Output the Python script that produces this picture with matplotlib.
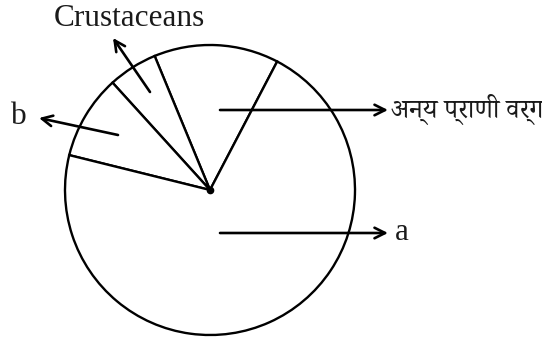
import matplotlib
matplotlib.use("Agg")
import matplotlib.pyplot as plt

# slices, counter-clockwise from the upper right radius
labels = ["अन्य प्राणी वर्ग", "Crustaceans", "b", "a"]
shares = [13.9, 5.5, 9.4, 71.2]
start_angle = 62.4

# layout in pixels (y measured from the bottom)
W, H = 542, 343
centre = (210, 153)
radius = 145
# arrow tail, arrow head, text position, text alignment
arrows = [
    ((220, 233), (388, 233), (391, 234), "left"),
    ((150, 251), (113, 305), (129, 325), "center"),
    ((118, 208), (39, 225), (19, 227), "center"),
    ((220, 110), (388, 110), (395, 111), "left"),
]

serif = ["Liberation Serif", "DejaVu Serif"]
deva = ["Noto Serif Devanagari", "Martel", "Noto Sans Devanagari", "Akshar", "Liberation Serif"]

fig = plt.figure(figsize=(W / 100, H / 100), dpi=100)
ax = fig.add_axes([0, 0, 1, 1])

ax.pie(shares, startangle=start_angle, counterclock=True, center=centre, radius=radius,
       colors=["white"] * len(shares),
       wedgeprops=dict(edgecolor="black", linewidth=1.7))
ax.set_xlim(0, W)
ax.set_ylim(0, H)
ax.set_aspect("equal")
ax.axis("off")
ax.plot(*centre, "o", color="black", ms=4.5)

for lab, (tail, head, pos, ha) in zip(labels, arrows):
    ax.annotate("", xy=head, xytext=tail,
                arrowprops=dict(arrowstyle="->", lw=1.9, color="black",
                                shrinkA=0, shrinkB=0, mutation_scale=19))
    if lab.startswith("अ"):
        ax.text(pos[0], pos[1], lab, ha=ha, va="center", fontsize=19,
                family=deva, color="#1a1a1a")
    else:
        ax.text(pos[0], pos[1], lab, ha=ha, va="center", fontsize=22.5,
                family=serif, color="#1a1a1a")

fig.savefig("out.png", dpi=100)
